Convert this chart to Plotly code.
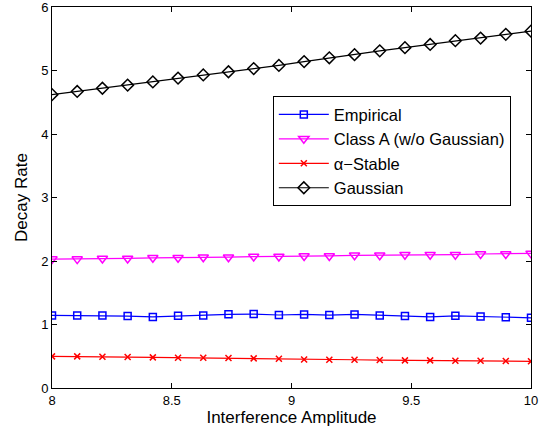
import plotly.graph_objects as go

x_vals = [8 + 2 * i / 19 for i in range(20)]

empirical = [1.143, 1.143, 1.143, 1.132, 1.12, 1.137, 1.143, 1.16, 1.164, 1.15,
             1.159, 1.148, 1.159, 1.143, 1.132, 1.12, 1.137, 1.127, 1.116, 1.105]
class_a = [2.03, 2.03, 2.04, 2.04, 2.05, 2.05, 2.06, 2.06, 2.07, 2.07,
           2.08, 2.08, 2.09, 2.09, 2.10, 2.10, 2.10, 2.11, 2.11, 2.12]
alpha_stable = [0.498, 0.498, 0.492, 0.487, 0.482, 0.476, 0.476, 0.472, 0.467, 0.461,
                0.45, 0.445, 0.445, 0.44, 0.435, 0.435, 0.43, 0.43, 0.425, 0.42]
gaussian = [4.62, 4.67, 4.72, 4.77, 4.82, 4.88, 4.93, 4.98, 5.03, 5.08,
            5.14, 5.20, 5.25, 5.31, 5.36, 5.41, 5.47, 5.51, 5.57, 5.62]

x_ticks = [8, 8.5, 9, 9.5, 10]
x_tick_labels = ["8", "8.5", "9", "9.5", "10"]
y_ticks = [0, 1, 2, 3, 4, 5, 6]

series = [
    ("Empirical", empirical, "#0000ff", "square-open", 7),
    ("Class A (w/o Gaussian)", class_a, "#ff00ff", "triangle-down-open", 9),
    ("\u03b1\u2212Stable", alpha_stable, "#ff0000", "x-thin-open", 6),
    ("Gaussian", gaussian, "#000000", "diamond-open", 9),
]

fig = go.Figure()
for name, ys, color, sym, sz in series:
    fig.add_trace(go.Scatter(
        x=x_vals, y=ys, mode="lines+markers", name=name,
        line=dict(color=color, width=1.2),
        marker=dict(symbol=sym, size=sz, color=color, line=dict(color=color, width=1.5)),
    ))

axis_common = dict(
    showline=True, linecolor="black", linewidth=1, mirror="ticks",
    ticks="inside", ticklen=5, tickcolor="black", showgrid=False, zeroline=False,
    ticklabeloverflow="allow",
    tickfont=dict(family="Liberation Sans, Arial", size=13, color="black"),
)

fig.update_layout(
    width=546, height=432,
    margin=dict(l=52, r=15, t=7, b=44),
    paper_bgcolor="white", plot_bgcolor="white",
    font=dict(family="Liberation Sans, Arial", size=13, color="black"),
    xaxis=dict(range=[8, 10], tickvals=x_ticks, ticktext=x_tick_labels, automargin="bottom",
               title=dict(text="Interference Amplitude", standoff=2, font=dict(size=17)),
               **axis_common),
    yaxis=dict(range=[0, 6], tickvals=y_ticks, automargin="left",
               title=dict(text="Decay Rate", standoff=9, font=dict(size=17)), **axis_common),
    legend=dict(x=0.461, y=0.766, xanchor="left", yanchor="top",
                bordercolor="black", borderwidth=1, bgcolor="white",
                font=dict(size=16.5), tracegroupgap=0, itemwidth=50),
    showlegend=True,
)

fig.write_html("out.html", config={"displayModeBar": False},
               post_script="document.body.style.margin='0';")
